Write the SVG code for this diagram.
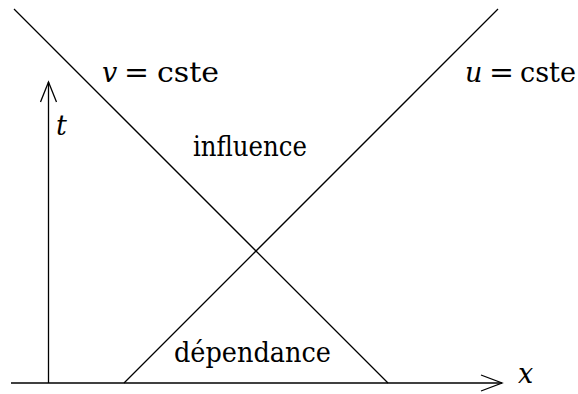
<svg xmlns="http://www.w3.org/2000/svg" width="578" height="394" viewBox="0 0 578 394">
<style>
.ln{stroke:#000;stroke-width:1.3;fill:none;stroke-linecap:butt}
text{font-family:'DejaVu Serif',serif;font-size:27px;fill:#000}
.m{font-style:italic}
</style>
<rect width="578" height="394" fill="#fff"/>
<g id="connectors">
<g id="x-axis">
<line class="ln" x1="11" y1="383" x2="502" y2="383"/>
<polyline class="ln" points="481,375 502,383 481,391"/>
</g>
<g id="t-axis">
<line class="ln" x1="48.5" y1="383" x2="48.5" y2="82"/>
<polyline class="ln" points="40.5,102 48.5,82 56.5,102"/>
</g>
<line id="v-line" class="ln" x1="14" y1="9" x2="388" y2="383"/>
<line id="u-line" class="ln" x1="124" y1="383" x2="498" y2="9"/>
</g>
<g id="label-v"><text y="82"><tspan class="m" x="102">v</tspan><tspan x="124" textLength="25" lengthAdjust="spacingAndGlyphs">=</tspan><tspan x="157" textLength="62" lengthAdjust="spacingAndGlyphs">cste</tspan></text></g>
<g id="label-u"><text y="82"><tspan class="m" x="465">u</tspan><tspan x="489" textLength="25" lengthAdjust="spacingAndGlyphs">=</tspan><tspan x="520" textLength="56" lengthAdjust="spacingAndGlyphs">cste</tspan></text></g>
<g id="label-t"><text class="m" x="56" y="135">t</text></g>
<g id="label-x"><text class="m" x="518" y="383">x</text></g>
<g id="label-influence"><text x="193" y="156" textLength="114" lengthAdjust="spacingAndGlyphs">influence</text></g>
<g id="label-dependance"><text x="174" y="362" textLength="157" lengthAdjust="spacingAndGlyphs">dépendance</text></g>
</svg>
